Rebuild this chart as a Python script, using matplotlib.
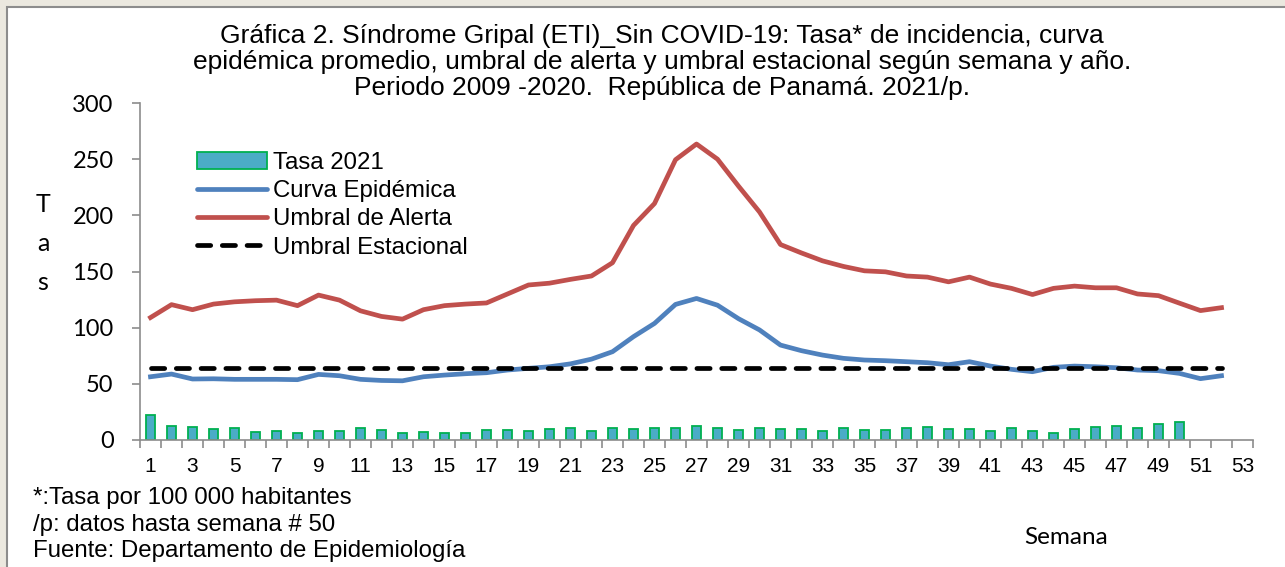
import matplotlib
matplotlib.use("Agg")
import matplotlib.pyplot as plt
from matplotlib.patches import Rectangle, Patch
from matplotlib.lines import Line2D
import numpy as np

weeks = list(range(1, 53))
tick_weeks = list(range(1, 54, 2))

tasa_2021 = [22, 12.8, 11.2, 10, 10.3, 7, 7.6, 6.4, 8, 7.6, 10.3, 8.5, 5.8, 7, 6.1, 6.4,
             8.5, 8.8, 8, 10, 10.6, 8.2, 10.6, 10, 10.6, 10.6, 12.9, 10.6, 9.1, 10.6, 9.6,
             9.4, 7.9, 10.9, 8.8, 8.5, 10.6, 11.5, 10, 9.4, 8.2, 10.8, 8.2, 6.1, 9.6, 11.5,
             12.4, 10.9, 14.1, 15.9]

curva_epidemica = [56.3, 58.7, 54.3, 54.5, 54, 54, 54, 53.7, 58.4, 57.2, 54, 53, 52.7,
                   56.3, 57.8, 59, 59.9, 62.3, 63.8, 65.2, 67.8, 72, 78.6, 92, 103.8, 120.7,
                   126, 120, 108, 98, 84.5, 79.5, 75.6, 72.7, 71.2, 70.6, 69.7, 68.8, 67,
                   69.7, 65.8, 62.9, 60.8, 64.7, 65.8, 65.2, 64.3, 62.3, 61.7, 59.3, 54.6, 57.2]

umbral_alerta = [109, 120.5, 116, 121, 123, 124, 124.5, 119.6, 129, 124.5, 115, 110, 107.6,
                 116, 119.6, 121, 122, 130, 138, 139.6, 143, 146, 157.8, 191, 210.5, 249.5,
                 263.5, 250, 226, 203, 174, 166.5, 159.5, 154.5, 150.6, 149.7, 146, 145,
                 140.8, 145, 138.8, 135, 129.5, 135, 137, 135.5, 135.5, 130, 128.5, 121.8,
                 115.2, 117.8]

umbral_estacional = [64] * 52

title_lines = ["Gráfica 2. Síndrome Gripal (ETI)_Sin COVID-19: Tasa* de incidencia, curva",
               "epidémica promedio, umbral de alerta y umbral estacional según semana y año.",
               "Periodo 2009 -2020.  República de Panamá. 2021/p."]
notas = ["*:Tasa por 100 000 habitantes",
         "/p: datos hasta semana # 50",
         "Fuente: Departamento de Epidemiología"]

W, H = 1285, 567
plt.rcParams['font.family'] = ['Liberation Sans', 'DejaVu Sans']

fig = plt.figure(figsize=(W / 100, H / 100), dpi=100)
fig.patch.set_facecolor('#ebe8df')
fig.patches.append(Rectangle((7 / W, -0.2), 1.2, 1.2 - 7 / H, transform=fig.transFigure,
                             facecolor='white', edgecolor='#8c8c8c', lw=1.5, zorder=-1))

ax = fig.add_axes([140 / W, 1 - 440 / H, (1253 - 140) / W, (440 - 103) / H])
ax.set_facecolor('none')

LW = 3.4
DASH = (2.8, 2.45)
ax.bar(weeks[:len(tasa_2021)], tasa_2021, width=0.45, color='#4bacc6',
       edgecolor='#00b050', linewidth=1.3, zorder=2)
ax.plot(weeks, curva_epidemica, color='#4f81bd', lw=LW, zorder=3)
ax.plot(weeks, umbral_alerta, color='#c0504d', lw=LW, zorder=3)
ax.plot(weeks, umbral_estacional, color='black', lw=LW, dashes=DASH,
        dash_capstyle='round', zorder=4)

ax.set_xlim(0.5, 53.5)
ax.set_ylim(0, 300)
ax.set_yticks(range(0, 301, 50))
ax.set_xticks(tick_weeks)
ax.set_xticks(np.arange(0.5, 54, 1), minor=True)
for s in ['top', 'right']:
    ax.spines[s].set_visible(False)
for s in ['left', 'bottom']:
    ax.spines[s].set_color('#8c8c8c')
    ax.spines[s].set_linewidth(1.2)
ax.tick_params(axis='y', length=6, width=1.2, color='#8c8c8c', pad=13, labelsize=17)
for lab in ax.get_yticklabels():
    lab.set_family(['Lato', 'DejaVu Sans'])
ax.tick_params(axis='x', which='major', length=0, pad=12, labelsize=15)
ax.tick_params(axis='x', which='minor', length=6, width=1.2, color='#8c8c8c')

handles = [Patch(facecolor='#4bacc6', edgecolor='#00b050', lw=1.3),
           Line2D([], [], color='#4f81bd', lw=LW, solid_capstyle='round'),
           Line2D([], [], color='#c0504d', lw=LW, solid_capstyle='round'),
           Line2D([], [], color='black', lw=LW, dashes=DASH, dash_capstyle='round')]
labels = ['Tasa 2021', 'Curva Epidémica', 'Umbral de Alerta', 'Umbral Estacional']
fig.legend(handles, labels, loc='upper left', bbox_to_anchor=(197 / W, 1 - 152 / H),
           frameon=False, fontsize=17.3, handlelength=2.9, handletextpad=0.25,
           labelspacing=0.26, borderpad=0, borderaxespad=0)

for i, line in enumerate(title_lines):
    fig.text(662 / W, 1 - (36 + 26 * i) / H, line, ha='center', va='center', fontsize=19)

for i, ch in enumerate('Tas'):
    fig.text(43 / W, 1 - (205 + 38.5 * i) / H, ch, ha='center', va='center', fontsize=18,
             family=['Lato', 'DejaVu Sans'])

for i, line in enumerate(notas):
    fig.text(33 / W, 1 - (498 + 26.5 * i) / H, line, ha='left', va='center', fontsize=17.3)

fig.text(1066 / W, 1 - 537 / H, 'Semana', ha='center', va='center', fontsize=17.5,
         family=['Lato', 'DejaVu Sans'])

fig.savefig('out.png', dpi=100, facecolor=fig.get_facecolor())
